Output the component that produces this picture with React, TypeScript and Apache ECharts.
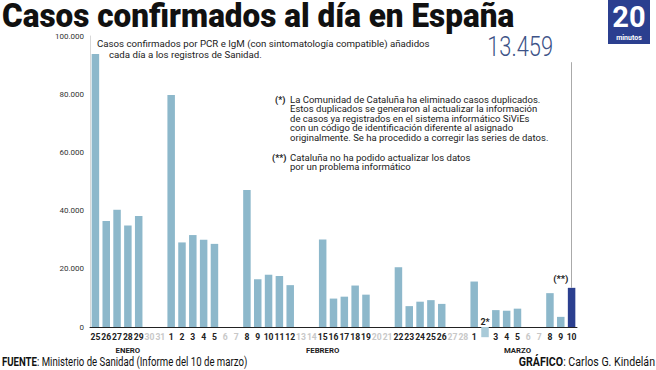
import React, { useEffect, useRef } from "react";
import * as echarts from "echarts";

// Day labels (25 Jan – 10 Mar)
const days: string[] = [
  "25", "26", "27", "28", "29", "30", "31",
  "1", "2", "3", "4", "5", "6", "7",
  "8", "9", "10", "11", "12", "13", "14",
  "15", "16", "17", "18", "19", "20", "21",
  "22", "23", "24", "25", "26", "27", "28",
  "1", "2*", "3", "4", "5", "6", "7",
  "8", "9", "10",
];
// weekends have no report
const weekend: boolean[] = days.map((_, i) => [5, 6, 12, 13, 19, 20, 26, 27, 33, 34, 40, 41].includes(i));

const cases: (number | null)[] = [
  93822, 36435, 40285, 34899, 38118, null, null,
  79686, 29064, 31596, 29960, 28565, null, null,
  47095, 16402, 17963, 17521, 14384, null, null,
  30079, 9765, 10423, 14250, 11116, null, null,
  20540, 7174, 8698, 9231, 7941, null, null,
  15623, -3500, 5803, 5592, 6302, null, null,
  11634, 3481, 13459,
];

const months: { label: string; index: number }[] = [
  { label: "ENERO", index: 3 },
  { label: "FEBRERO", index: 21 },
  { label: "MARZO", index: 39 },
];

const yTicks = { min: 0, max: 100000, interval: 20000 };
const latest = 13459;

const FONT = "Roboto, sans-serif";
const BAR = "#8db8cb";
const NAVY = "#2b3f8f";

export default function App() {
  const ref = useRef<HTMLDivElement>(null);
  useEffect(() => {
    if (!ref.current) return;
    const chart = echarts.init(ref.current, null, { renderer: "svg" });
    const last = days.length - 1;
    const data = cases.map((v, i) => {
      if (i === last) return { value: v, itemStyle: { color: NAVY } };
      if (days[i] === "2*")
        return {
          value: v,
          itemStyle: { color: "#a9cad8" },
          label: { show: true, formatter: "2*", position: "top", distance: 1, color: "#222", fontSize: 9, fontWeight: "bold", fontFamily: FONT },
        };
      if (i === last - 1)
        return {
          value: v,
          label: { show: true, formatter: "(**)", position: "top", distance: 33, color: "#222", fontSize: 9.5, fontWeight: "bold", fontFamily: FONT },
        };
      return v;
    });
    const monthLabels = days.map((_, i) => {
      const m = months.find((mm) => mm.index === i);
      return m ? m.label : "";
    });
    chart.setOption({
      animation: false,
      grid: { left: 90, right: 79, top: 36, bottom: 43, containLabel: false },
      xAxis: [
        {
          type: "category",
          data: days.map((d) => (d === "2*" ? "" : d)),
          axisLine: { lineStyle: { color: "#222", width: 1 } },
          axisTick: { show: false },
          axisLabel: {
            interval: 0,
            margin: 5,
            fontSize: 8.6,
            fontWeight: "bold",
            fontFamily: FONT,
            hideOverlap: false,
            color: (_v: string, i: number) => (weekend[i] ? "#c8c8c8" : "#222"),
          },
        },
        {
          type: "category",
          position: "bottom",
          offset: 14,
          data: monthLabels,
          axisLine: { show: false },
          axisTick: { show: false },
          axisLabel: { interval: 0, fontSize: 7.8, fontWeight: "bold", fontFamily: FONT, color: "#222", margin: 5 },
        },
      ],
      yAxis: {
        type: "value",
        min: yTicks.min,
        max: yTicks.max,
        interval: yTicks.interval,
        axisLine: { show: true, lineStyle: { color: "#d8d8d8" } },
        axisTick: { show: false },
        splitLine: { show: false },
        axisLabel: {
          margin: 6,
          fontSize: 8,
          color: "#333",
          fontFamily: FONT,
          formatter: (v: number) => v.toLocaleString("de-DE"),
        },
      },
      series: [
        {
          type: "bar",
          data,
          barWidth: 7.5,
          clip: false,
          itemStyle: { color: BAR },
          markLine: {
            silent: true,
            symbol: ["none", "none"],
            label: { show: false },
            lineStyle: { color: "#aaaaaa", width: 1, type: "solid" },
            data: [[{ coord: [last, latest] }, { coord: [last, 91000] }]],
          },
        },
      ],
      graphic: [
        {
          type: "text",
          x: 2,
          y: 0,
          scaleX: 1.05,
          scaleY: 1.08,
          style: { text: "Casos confirmados al día en España", font: `900 30px ${FONT}`, lineHeight: 30, fill: "#111", verticalAlign: "top" },
        },
        {
          type: "text",
          left: 97,
          top: 38,
          style: {
            text: "Casos confirmados por PCR e IgM (con sintomatología compatible) añadidos\n     cada día a los registros de Sanidad.",
            font: `9.7px ${FONT}`,
            lineHeight: 11,
            fill: "#222",
          },
        },
        {
          type: "text",
          x: 553,
          y: 47,
          scaleX: 0.78,
          style: { text: latest.toLocaleString("de-DE"), font: `300 28px ${FONT}`, fill: "#3d5287", align: "right", verticalAlign: "middle" },
        },
        {
          type: "text",
          left: 275,
          top: 95,
          style: { text: "(*)", font: `bold 9px ${FONT}`, fill: "#222" },
        },
        {
          type: "text",
          x: 290,
          y: 95,
          scaleX: 1.06,
          style: {
            text:
              "La Comunidad de Cataluña ha eliminado casos duplicados.\nEstos duplicados se generaron al actualizar la información\nde casos ya registrados en el sistema informático SiViEs\ncon un código de identificación diferente al asignado\noriginalmente. Se ha procedido a corregir las series de datos.",
            font: `9px ${FONT}`,
            lineHeight: 9.4,
            fill: "#222",
          },
        },
        {
          type: "text",
          left: 272,
          top: 153,
          style: { text: "(**)", font: `bold 9px ${FONT}`, fill: "#222" },
        },
        {
          type: "text",
          x: 290,
          y: 153,
          scaleX: 1.06,
          style: {
            text: "Cataluña no ha podido actualizar los datos\npor un problema informático",
            font: `9px ${FONT}`,
            lineHeight: 9.4,
            fill: "#222",
          },
        },
        {
          type: "group",
          x: 608,
          y: 0,
          children: [
            { type: "rect", shape: { x: 0, y: 0, width: 42, height: 44 }, style: { fill: NAVY } },
            { type: "text", x: 21, y: 17, style: { text: "20", font: `bold 29px ${FONT}`, fill: "#fff", align: "center", verticalAlign: "middle" } },
            { type: "text", x: 21, y: 37.5, style: { text: "minutos", font: `bold 7px ${FONT}`, fill: "#fff", align: "center", verticalAlign: "middle" } },
          ],
        },
        {
          type: "text",
          x: 2,
          y: 362,
          scaleX: 0.8,
          style: {
            text: "{b|FUENTE}: Ministerio de Sanidad (Informe del 10 de marzo)",
            font: `12px ${FONT}`,
            fill: "#111",
            verticalAlign: "middle",
            rich: { b: { fontWeight: "bold", fontSize: 12, fontFamily: FONT, fill: "#111" } },
          },
        },
        {
          type: "text",
          x: 655,
          y: 362,
          scaleX: 0.85,
          style: {
            text: "{b|GRÁFICO}: Carlos G. Kindelán",
            font: `12.5px ${FONT}`,
            fill: "#111",
            align: "right",
            verticalAlign: "middle",
            rich: { b: { fontWeight: "bold", fontSize: 12.5, fontFamily: FONT, fill: "#111" } },
          },
        },
      ],
    });
    return () => chart.dispose();
  }, []);
  return <div ref={ref} style={{ position: "fixed", left: 0, top: 0, width: 656, height: 370, background: "#fff" }} />;
}
